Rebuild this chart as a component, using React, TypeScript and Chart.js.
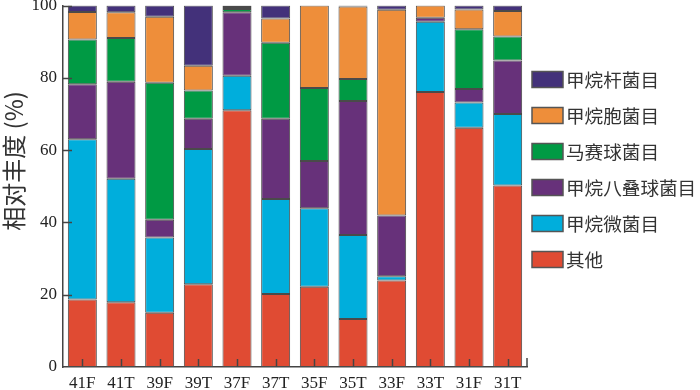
import React, { useEffect, useRef } from "react";
import { Chart, registerables } from "chart.js";

Chart.register(...registerables);

const categories = ["41F", "41T", "39F", "39T", "37F", "37T", "35F", "35T", "33F", "33T", "31F", "31T"];
const other = [18.7, 17.9, 15.0, 22.9, 71.0, 20.2, 22.2, 13.3, 23.9, 76.1, 66.2, 50.2];
const methanomicrobiales = [44.3, 34.2, 20.8, 37.4, 9.6, 26.3, 21.7, 23.2, 1.2, 19.4, 7.0, 19.8];
const methanosarcinales = [15.2, 26.8, 4.9, 8.4, 17.5, 22.2, 13.1, 37.1, 16.8, 1.1, 3.7, 14.8];
const methanomassiliicoccales = [12.4, 12.1, 37.9, 7.8, 0.9, 21.0, 20.2, 6.1, null, null, 16.5, 6.6];
const methanocellales = [7.6, 7.1, 18.3, 6.8, 0.6, 6.7, 22.8, 20.0, 56.9, 3.4, 5.5, 7.1];
const methanobacteriales = [1.8, 1.9, 3.1, 16.7, 0.4, 3.6, null, 0.3, 1.2, null, 1.1, 1.5];

const seriesNames = ["其他", "甲烷微菌目", "甲烷八叠球菌目", "马赛球菌目", "甲烷胞菌目", "甲烷杆菌目"];
const seriesColors = ["#E04B33", "#00AEDC", "#67317A", "#009A44", "#EE8E3A", "#43317A"];
const yTicks = [0, 20, 40, 60, 80, 100];
const yTitle = "相对丰度 (%)";

const decorPlugin = {
  id: "decor",
  afterDraw(chart: any) {
    const { ctx, chartArea, scales } = chart;
    const x = scales.x;
    const y = scales.y;
    ctx.save();
    ctx.strokeStyle = "#444";
    ctx.lineWidth = 1.5;
    ctx.beginPath();
    yTicks.forEach((v) => {
      if (v === 0) return;
      const py = Math.round(y.getPixelForValue(v)) + 0.5;
      ctx.moveTo(chartArea.left, py);
      ctx.lineTo(chartArea.left + 9, py);
    });
    categories.forEach((_c, i) => {
      const px = Math.round(x.getPixelForValue(i)) + 0.5;
      ctx.moveTo(px, chartArea.bottom);
      ctx.lineTo(px, chartArea.bottom - 8);
    });
    ctx.moveTo(chartArea.right, chartArea.bottom);
    ctx.lineTo(chartArea.right, chartArea.bottom - 9);
    ctx.stroke();

    // y title
    ctx.fillStyle = "#333";
    ctx.font = '24px "Noto Sans CJK SC"';
    ctx.textAlign = "center";
    ctx.textBaseline = "middle";
    ctx.translate(14, 161);
    ctx.rotate(-Math.PI / 2);
    ctx.fillText(yTitle, 0, 0);
    ctx.restore();

    // legend
    ctx.save();
    const ds = chart.data.datasets;
    for (let k = 0; k < ds.length; k++) {
      const d = ds[ds.length - 1 - k];
      const cy = 79.5 + 36 * k;
      const bx = 532;
      ctx.fillStyle = d.backgroundColor;
      ctx.fillRect(bx, cy - 8, 31, 16);
      ctx.strokeStyle = "#555";
      ctx.lineWidth = 1.5;
      ctx.strokeRect(bx, cy - 8, 31, 16);
      ctx.fillStyle = "#333";
      ctx.font = '18.6px "Noto Sans CJK SC"';
      ctx.textAlign = "left";
      ctx.textBaseline = "middle";
      ctx.fillText(d.label, 566, cy);
    }
    ctx.restore();
  },
};

export default function App() {
  const ref = useRef<HTMLCanvasElement | null>(null);
  useEffect(() => {
    if (!ref.current) return;
    const seriesData = [other, methanomicrobiales, methanosarcinales, methanomassiliicoccales, methanocellales, methanobacteriales];
    const chart = new Chart(ref.current, {
      type: "bar",
      data: {
        labels: categories,
        datasets: seriesData.map((d, i) => ({
          label: seriesNames[i],
          data: d,
          backgroundColor: seriesColors[i],
          borderColor: "#4a4a4a",
          borderWidth: 1,
          borderSkipped: false,
          categoryPercentage: 1,
          barPercentage: 0.75,
        })),
      },
      options: {
        animation: false,
        responsive: false,
        maintainAspectRatio: false,
        layout: { padding: { top: 5.5, right: 173, bottom: 0, left: 0 } },
        plugins: { legend: { display: false }, tooltip: { enabled: false } },
        scales: {
          x: {
            stacked: true,
            grid: { display: false, drawTicks: false },
            border: { display: true, color: "#444", width: 1.5 },
            ticks: { color: "#222", font: { family: '"Liberation Serif"', size: 17 }, padding: 6, maxRotation: 0 },
            afterFit(s: any) {
              s.height = 23;
              s.paddingLeft = 0;
              s.paddingRight = 0;
            },
          },
          y: {
            stacked: true,
            min: 0,
            max: 100,
            grid: { display: false, drawTicks: false },
            border: { display: true, color: "#444", width: 1.5 },
            ticks: { stepSize: 20, color: "#222", font: { family: '"Liberation Serif"', size: 17 }, padding: 6 },
            afterFit(s: any) {
              s.width = 63;
              s.paddingTop = 0;
              s.paddingBottom = 0;
            },
          },
        },
      },
      plugins: [decorPlugin],
    });
    return () => chart.destroy();
  }, []);
  return (
    <div style={{ position: "absolute", left: 0, top: 0, width: 700, height: 390, background: "#fff" }}>
      <canvas ref={ref} width={700} height={390} />
    </div>
  );
}
